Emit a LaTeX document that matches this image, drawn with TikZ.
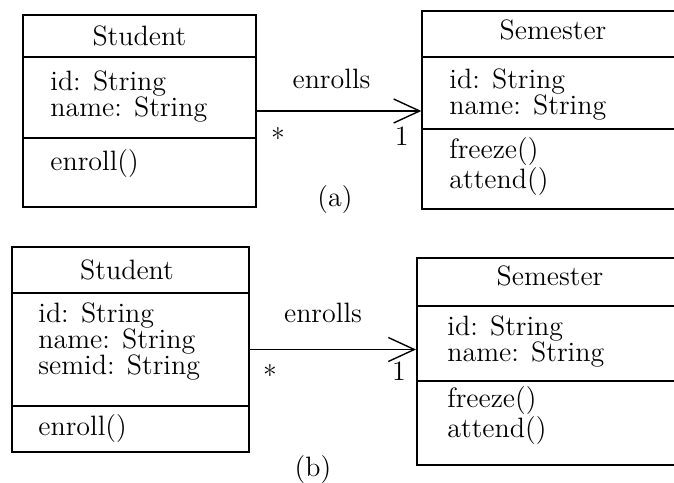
\documentclass[tikz,border=0pt]{standalone}
\usetikzlibrary{arrows.meta}
\begin{document}
\begin{tikzpicture}[x=0.5pt,y=-0.5pt,
  classbox/.style={draw, line width=1pt, rectangle, inner sep=0pt},
  sep/.style={line width=1pt},
  % multi-line blocks: the base anchor sits on the baseline of the last line
  txt/.style={font=\fontsize{14}{13}\selectfont, inner sep=0pt, align=left, anchor=base west},
  head/.style={font=\fontsize{14}{13}\selectfont, inner sep=0pt, anchor=base},
  lbl/.style={font=\fontsize{14}{13}\selectfont, inner sep=0pt},
  assoc/.style={line width=0.7pt, -{Straight Barb[length=13pt,width=12pt,line width=0.7pt]}}
]
\path[use as bounding box] (0,0) rectangle (674,482);
\clip (0,0) rectangle (674,482);

% ---------- (a) ----------
\node[classbox, minimum width=116.65pt, minimum height=96pt] (stuA) at (139.35,111) {};
\node[classbox, minimum width=130.85pt, minimum height=99pt] (semA) at (553.15,110) {};
\draw[sep] (stuA.west |- 0,57) -- (stuA.east |- 0,57);
\draw[sep] (stuA.west |- 0,138) -- (stuA.east |- 0,138);
\draw[sep] (semA.west |- 0,57) -- (semA.east |- 0,57);
\draw[sep] (semA.west |- 0,129) -- (semA.east |- 0,129);

\node[head] (stuAname) at (139.35,45) {Student};
\node[txt] (stuAattr) at (50,116.7) {id: String\\name: String};
\node[txt] (stuAops) at (50,170.7) {enroll()};
\node[head] (semAname) at (553,39.3) {Semester};
\node[txt] (semAattr) at (449,114) {id: String\\name: String};
\node[txt] (semAops) at (449,188.3) {freeze()\\attend()};

\draw[assoc] (stuA.east) -- (semA.west |- stuA.east);
\node[lbl, anchor=base] (relA) at (331.5,88.3) {enrolls};
\node[lbl] (manyA) at (278,138) {*};
\node[lbl, anchor=base] (oneA) at (401.7,145) {1};
\node[lbl] (capA) at (335,200) {(a)};

% ---------- (b) ----------
\node[classbox, minimum width=118.5pt, minimum height=102.5pt] (stuB) at (130.5,349.5) {};
\node[classbox, minimum width=133.5pt, minimum height=103.5pt] (semB) at (550.5,361.5) {};
\draw[sep] (stuB.west |- 0,293) -- (stuB.east |- 0,293);
\draw[sep] (stuB.west |- 0,406) -- (stuB.east |- 0,406);
\draw[sep] (semB.west |- 0,306) -- (semB.east |- 0,306);
\draw[sep] (semB.west |- 0,381) -- (semB.east |- 0,381);

\node[head] (stuBname) at (127,279.3) {Student};
\node[txt] (stuBattr) at (38,374.3) {id: String\\name: String\\semid: String};
\node[txt] (stuBops) at (38,435) {enroll()};
\node[head] (semBname) at (550,285) {Semester};
\node[txt] (semBattr) at (447,361.7) {id: String\\name: String};
\node[txt] (semBops) at (447,437.7) {freeze()\\attend()};

\draw[assoc] (stuB.east) -- (semB.west |- stuB.east);
\node[lbl, anchor=base] (relB) at (323,322.3) {enrolls};
\node[lbl] (manyB) at (270,375) {*};
\node[lbl, anchor=base] (oneB) at (399,380.7) {1};
\node[lbl] (capB) at (313,470) {(b)};
\end{tikzpicture}
\end{document}
